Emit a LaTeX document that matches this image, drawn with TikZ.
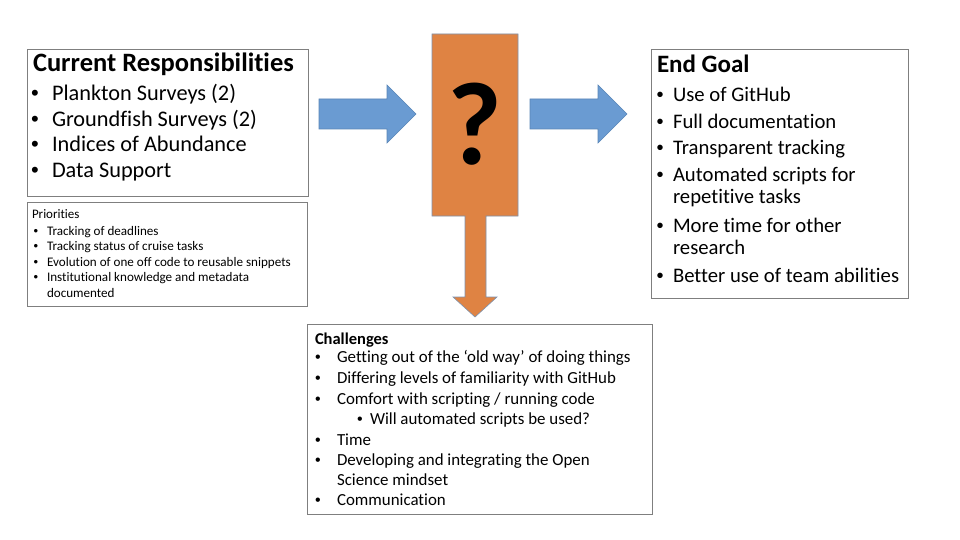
\documentclass[tikz,border=0pt]{standalone}
\usepackage{fontspec}
\setmainfont{Carlito}[Ligatures=NoCommon]
\newfontfamily\bulfont{Liberation Sans}
\definecolor{boxline}{HTML}{7F7F7F}
\definecolor{bluefill}{HTML}{6A9BD2}
\definecolor{blueline}{HTML}{5A86B8}
\definecolor{orangefill}{HTML}{DF8343}
\definecolor{orangeline}{HTML}{7D93B0}
\tikzset{
  txtbox/.style={draw=boxline, line width=0.8pt, fill=white},
  bluearrow/.style={fill=bluefill, draw=blueline, line width=0.6pt},
  orangeshape/.style={fill=orangefill, draw=orangeline, line width=0.6pt},
  lbl/.style={anchor=base west, inner sep=0pt, outer sep=0pt},
  bul/.style={anchor=base, inner sep=0pt, outer sep=0pt},
}
\begin{document}
\begin{tikzpicture}[x=1pt,y=-1pt]
\useasboundingbox (0,0) rectangle (960,540);
\fill[white] (0,0) rectangle (960,540);

% Current Responsibilities box
\draw[txtbox] (27,49) rectangle (308,196);
\node[lbl, font=\bfseries\fontsize{26.5}{30}\selectfont] (crt) at (33,72) {Current Responsibilities};
\foreach \y/\t in {101/{Plankton Surveys (2)}, 127/{Groundfish Surveys (2)}, 152/{Indices of Abundance}, 178/{Data Support}}{
  \node[bul, font=\bulfont\fontsize{22}{25}\selectfont] at (35,\y) {•};
  \node[lbl, font=\fontsize{22.3}{25}\selectfont] at (52,\y) {\t};
}

% Priorities box
\draw[txtbox] (27,202) rectangle (307,306);
\node[lbl, font=\fontsize{13}{15}\selectfont] (prt) at (32,218) {Priorities};
\foreach \y/\t in {235/{Tracking of deadlines}, 250/{Tracking status of cruise tasks}, 266/{Evolution of one off code to reusable snippets}, 281/{Institutional knowledge and metadata}}{
  \node[bul, font=\bulfont\fontsize{13}{15}\selectfont] at (36,\y) {•};
  \node[lbl, font=\fontsize{13.1}{15}\selectfont] at (47,\y) {\t};
}
\node[lbl, font=\fontsize{13.1}{15}\selectfont] at (47,297) {documented};

% Left blue arrow
\draw[bluearrow] (319,99) -- (387,99) -- (387,85) -- (416,114) -- (387,143) -- (387,129) -- (319,129) -- cycle;
% Right blue arrow
\draw[bluearrow] (530,99) -- (598,99) -- (598,85) -- (627,114) -- (598,143) -- (598,129) -- (530,129) -- cycle;

% Orange shape with down arrow
\draw[orangeshape] (432,34) -- (518,34) -- (518,216) -- (486,216) -- (486,297) -- (497,297) -- (475,317) -- (453,297) -- (465,297) -- (465,216) -- (432,216) -- cycle;
\node[font=\bfseries\fontsize{118}{118}\selectfont, inner sep=0pt] (q) at (475,124) {?};

% End Goal box
\draw[txtbox] (651,49) rectangle (908,298);
\node[lbl, font=\bfseries\fontsize{25}{28}\selectfont] (eg) at (657,73) {End Goal};
\foreach \y/\t in {102/{Use of GitHub}, 129/{Full documentation}, 155/{Transparent tracking}, 182/{Automated scripts for}, 204/{repetitive tasks}, 232/{More time for other}, 254/{research}, 282/{Better use of team abilities}}{
  \node[lbl, font=\fontsize{20.7}{23}\selectfont] at (673,\y) {\t};
}
\foreach \y in {102,129,155,182,232,282}{
  \node[bul, font=\bulfont\fontsize{20}{23}\selectfont] at (660,\y) {•};
}

% Challenges box
\draw[txtbox] (307,324) rectangle (652,514);
\node[lbl, font=\bfseries\fontsize{16.5}{18}\selectfont] (ch) at (315,344) {Challenges};
\foreach \y/\t in {362/{Getting out of the ‘old way’ of doing things}, 383/{Differing levels of familiarity with GitHub}, 404/{Comfort with scripting / running code}, 445/{Time}, 465/{Developing and integrating the Open}, 505/{Communication}}{
  \node[lbl, font=\fontsize{16.9}{18}\selectfont] at (337,\y) {\t};
}
\foreach \y in {362,383,404,445,465,505}{
  \node[bul, font=\bulfont\fontsize{16}{18}\selectfont] at (318,\y) {•};
}
\node[lbl, font=\fontsize{16.9}{18}\selectfont] at (337,485) {Science mindset};
\node[bul, font=\bulfont\fontsize{16}{18}\selectfont] at (360,424) {•};
\node[lbl, font=\fontsize{16.9}{18}\selectfont] at (370,424) {Will automated scripts be used?};
\end{tikzpicture}
\end{document}
